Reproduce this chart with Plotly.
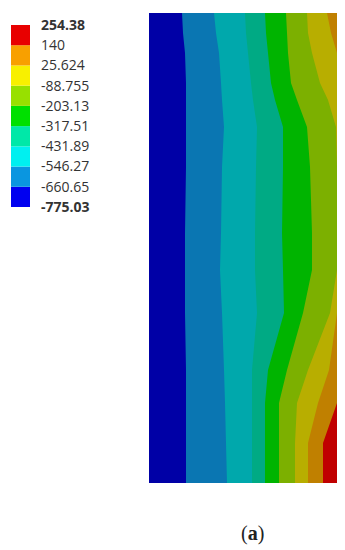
# -*- coding: utf-8 -*-
import plotly.graph_objects as go

# legend, bottom to top
legend_labels = ["<b>-775.03</b>", "-660.65", "-546.27", "-431.89", "-317.51",
                 "-203.13", "-88.755", "25.624", "140", "<b>254.38</b>"]
legend_colors = ["#0000f0", "#0a96e0", "#00f0f0", "#00e8a8", "#00e000",
                 "#98e000", "#f8f000", "#f8a000", "#e80000"]
# same nine bands as they look on the plate (duller than the legend)
band_colors = ["#0000a6", "#0a76b2", "#00a8ac", "#00aa84", "#00b400",
               "#7cb000", "#b8ae00", "#c08000", "#c00000"]

# height along the plate
levels = [470, 450, 430, 400, 383, 356, 316, 250, 213, 170, 113, 80, 40, 0]

# band boundaries, distance from the left edge at each level
edge_1 = [33, 34, 36, 37, 37, 37, 37, 36, 36, 36, 37, 37, 37, 37]
edge_2 = [65, 67, 70, 72, 73, 75, 73, 72, 71, 73, 75, 76, 77, 78]
edge_3 = [96, 97, 99, 102, 104, 108, 107, 106, 106, 108, 103, 103, 103, 103]
edge_4 = [116, 117, 119, 122, 126, 134, 134, 133, 134, 135, 119, 116, 116, 116]
edge_5 = [137, 138, 139, 142, 148, 158, 161, 163, 163, 154, 138, 130, 130, 130]
edge_6 = [158, 159, 163, 171, 179, 187, 188, 188, 188, 181, 159, 148, 146, 146]
edge_7 = [178, 182, 188, 188, 188, 188, 188, 188, 188, 188, 180, 169, 159, 159]
edge_8 = [188, 188, 188, 188, 188, 188, 188, 188, 188, 188, 188, 188, 174, 174]

plate_w = 188
plate_h = 470

edges = [edge_1, edge_2, edge_3, edge_4, edge_5, edge_6, edge_7, edge_8]

fig = go.Figure()

# darkest band first, every next one is painted over it up to the right edge
fig.add_trace(go.Scatter(x=[0, plate_w, plate_w, 0], y=[plate_h, plate_h, 0, 0],
                         fill="toself", fillcolor=band_colors[0], mode="none",
                         hoverinfo="skip", showlegend=False))
for i, edge in enumerate(edges):
    fig.add_trace(go.Scatter(x=edge + [plate_w, plate_w], y=levels + [0, plate_h],
                             fill="toself", fillcolor=band_colors[i + 1], mode="none",
                             hoverinfo="skip", showlegend=False))

# colour legend as a stacked bar
for i, c in enumerate(legend_colors):
    fig.add_trace(go.Bar(x=[0], y=[1], base=[i], marker=dict(color=c, line_width=0),
                         width=1, xaxis="x2", yaxis="y2",
                         hoverinfo="skip", showlegend=False))

# page body has an 8px margin, so the figure is 8px smaller and everything shifted
W = 337
H = 542
OFF = 8
fig.update_layout(
    width=W, height=H, autosize=False,
    margin=dict(l=0, r=0, t=0, b=0),
    paper_bgcolor="white", plot_bgcolor="white",
    barmode="overlay",
    xaxis=dict(domain=[(149 - OFF) / W, (337 - OFF) / W], range=[0, plate_w], visible=False),
    yaxis=dict(domain=[1 - (483 - OFF) / H, 1 - (13 - OFF) / H], range=[0, plate_h], visible=False),
    xaxis2=dict(domain=[(11 - OFF) / W, (30 - OFF) / W], range=[-0.5, 0.5], visible=False, anchor="y2"),
    yaxis2=dict(domain=[1 - (207 - OFF) / H, 1 - (25 - OFF) / H], range=[0, 9], anchor="x2", side="right",
                tickvals=list(range(10)), ticktext=legend_labels,
                ticks="", showgrid=False, zeroline=False, showline=False,
                automargin=False, ticklabelstandoff=10,
                tickfont=dict(family="Open Sans", size=14, color="#333333")),
    annotations=[dict(text="(<b>a</b>)", xref="paper", yref="paper",
                      x=(252 - OFF) / W, y=1 - (533 - OFF) / H, showarrow=False,
                      xanchor="center", yanchor="middle",
                      font=dict(family="Liberation Serif", size=20, color="#222222"))],
)

fig.write_html("out.html")
